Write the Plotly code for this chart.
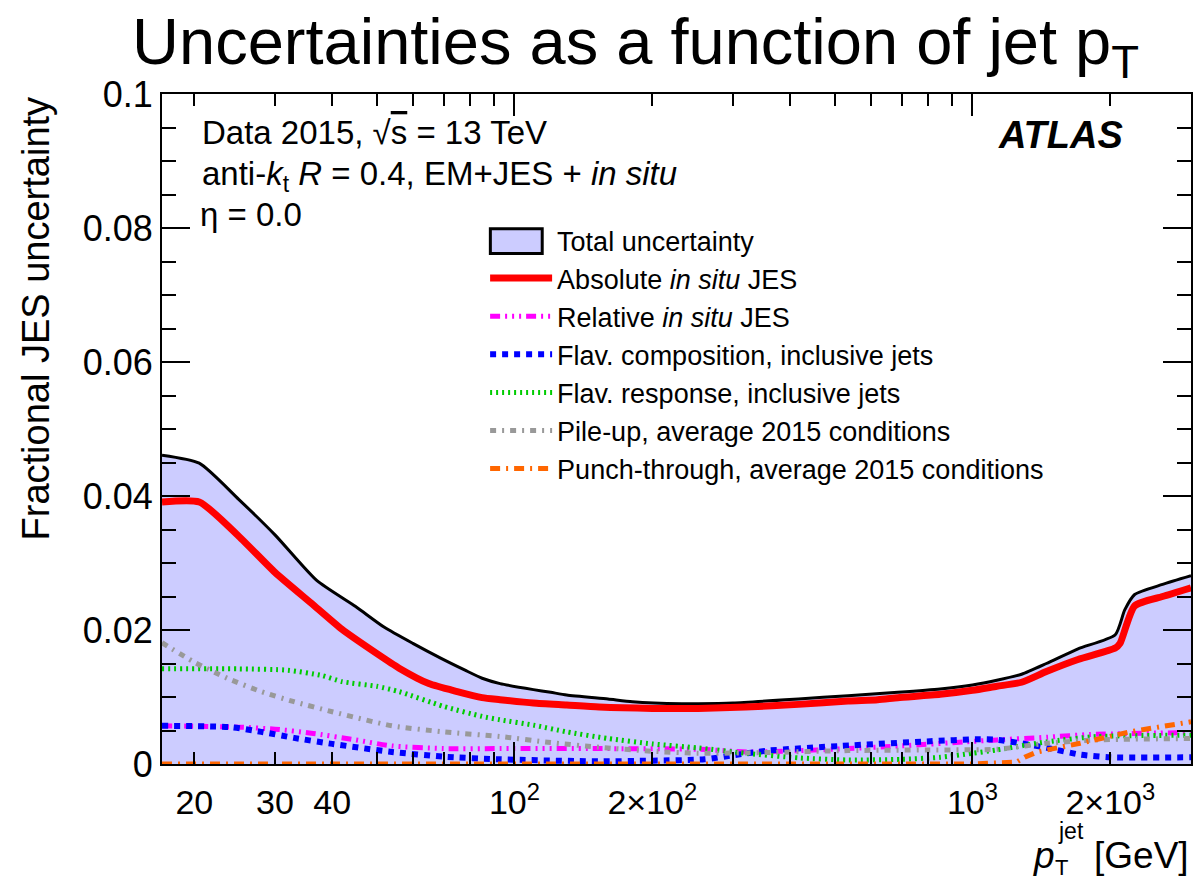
import math
import plotly.graph_objects as go

# ---- data: fractional JES uncertainty components vs jet pT [GeV] ----
pt_total = [17, 20.5, 25, 30, 37, 45, 52, 60, 69, 78, 85, 93, 110, 120, 130, 160, 181, 232, 252, 300,
            417, 535, 687, 850, 1000, 1130, 1280, 1450, 1700, 2050, 2150, 2260, 2600, 3000]
total_unc = [0.0461, 0.0449, 0.0395, 0.0342, 0.0274, 0.0235, 0.0204, 0.0180, 0.0158, 0.0140, 0.0128,
             0.0120, 0.0111, 0.0107, 0.0103, 0.0097, 0.0093, 0.0090, 0.0090, 0.0091,
             0.0097, 0.0102, 0.0107, 0.0112, 0.0118, 0.0125, 0.0134, 0.0150, 0.0172, 0.0193,
             0.0230, 0.0253, 0.0268, 0.0281]

pt_abs = [17, 20.5, 25, 30, 36, 42, 50, 56, 65, 75, 85, 93, 110, 130, 153, 200, 252, 320, 417, 535,
          621, 687, 850, 1000, 1130, 1280, 1450, 1700, 2050, 2100, 2260, 2600, 3000]
abs_insitu = [0.0391, 0.0391, 0.0340, 0.0286, 0.0240, 0.0201, 0.0165, 0.0143, 0.0120, 0.0108,
              0.0099, 0.0096, 0.0091, 0.0088, 0.0085, 0.0083, 0.0083, 0.0085, 0.0089, 0.0094,
              0.0096, 0.0099, 0.0104, 0.0110, 0.0116, 0.0122, 0.0138, 0.0156, 0.0173, 0.0180,
              0.0236, 0.0250, 0.0263]

pt_rel = [17, 25, 30, 36, 45, 54, 70, 93, 153, 252, 324, 420, 535, 700, 960, 1132, 1455, 1806, 3000]
rel_insitu = [0.0057, 0.0055, 0.0052, 0.0046, 0.0036, 0.0027, 0.0023, 0.0023, 0.0023, 0.0022,
              0.0018, 0.0020, 0.0023, 0.0027, 0.0033, 0.0036, 0.0040, 0.0044, 0.0047]

pt_flavcomp = [17, 24, 28, 33, 40, 54, 70, 93, 153, 200, 260, 300, 358, 517, 809, 1040, 1132, 1300,
               1455, 1718, 2000, 3000]
flav_comp = [0.0057, 0.0055, 0.0048, 0.0039, 0.0030, 0.0018, 0.0011, 0.0007, 0.0004, 0.0005, 0.0007,
             0.0013, 0.0020, 0.0027, 0.0034, 0.0037, 0.0036, 0.0030, 0.0024, 0.0014, 0.0010, 0.0010]

pt_flavresp = [17, 25, 32, 38, 42, 50, 56, 70, 85, 93, 110, 130, 160, 200, 252, 320, 420, 535, 700,
               850, 1000, 1130, 1450, 1870, 3000]
flav_resp = [0.0142, 0.0142, 0.0140, 0.0132, 0.0123, 0.0116, 0.0108, 0.0086, 0.0071, 0.0066, 0.0058,
             0.0048, 0.0038, 0.0030, 0.0024, 0.0016, 0.0009, 0.0006, 0.0007, 0.0010, 0.0016, 0.0021,
             0.0033, 0.0041, 0.0043]

pt_pileup = [17, 20, 23.6, 28, 33, 40, 54, 70, 93, 120, 153, 200, 252, 350, 535, 800, 1132, 1455,
             1870, 3000]
pileup = [0.0181, 0.0152, 0.0128, 0.0108, 0.0093, 0.0078, 0.0057, 0.0048, 0.0041, 0.0032, 0.0025,
          0.0019, 0.0016, 0.0017, 0.0020, 0.0021, 0.0022, 0.0031, 0.0036, 0.0038]

pt_punch = [17, 100, 1000, 1250, 1300, 1384, 1718, 2204, 2840, 3000]
punch = [0.0, 0.0, 0.0, 0.0003, 0.0010, 0.0018, 0.0031, 0.0048, 0.0061, 0.0063]

# axis tick definitions
x_tick_vals = [20, 30, 40, 50, 60, 70, 80, 90, 100, 200, 300, 400, 500, 600, 700, 800, 900,
               1000, 2000, 3000]
x_tick_text = ['20', '30', '40', '', '', '', '', '', '10<sup>2</sup>', '2\u00d710<sup>2</sup>', '', '',
               '', '', '', '', '', '10<sup>3</sup>', '2\u00d710<sup>3</sup>', '']
x_long_ticks = [100, 1000]
y_tick_vals = [0, 0.02, 0.04, 0.06, 0.08, 0.1]
y_tick_text = ['0', '0.02', '0.04', '0.06', '0.08', '0.1']

FONT = 'Liberation Sans, Arial, Helvetica, sans-serif'
SMOOTH = dict(shape='spline', smoothing=0.6)
BAND_COLOR = '#ccccff'

fig = go.Figure()

# total uncertainty band, filled down to zero
fig.add_trace(go.Scatter(
    x=pt_total, y=total_unc, name='Total uncertainty', mode='lines',
    fill='tozeroy', fillcolor=BAND_COLOR, line=dict(color='black', width=3, **SMOOTH),
    legendgroup='g1', showlegend=False))
# legend text for the band; its boxed swatch is drawn as a shape below
fig.add_trace(go.Scatter(
    x=pt_total[:1], y=total_unc[:1], name='Total uncertainty', mode='lines',
    line=dict(color='rgba(0,0,0,0)', width=0), legendgroup='g1', hoverinfo='skip'))
fig.add_trace(go.Scatter(
    x=pt_abs, y=abs_insitu, name='Absolute <i>in situ</i> JES', mode='lines',
    line=dict(color='#ff0000', width=7, **SMOOTH), legendgroup='g2'))
fig.add_trace(go.Scatter(
    x=pt_rel, y=rel_insitu, name='Relative <i>in situ</i> JES', mode='lines',
    line=dict(color='#ff00ff', width=5, dash='10px,5px,2px,5px,2px,5px,2px,5px', **SMOOTH),
    legendgroup='g3'))
fig.add_trace(go.Scatter(
    x=pt_flavcomp, y=flav_comp, name='Flav. composition, inclusive jets', mode='lines',
    line=dict(color='#0000ff', width=6, dash='6px,6px', **SMOOTH), legendgroup='g4'))
fig.add_trace(go.Scatter(
    x=pt_flavresp, y=flav_resp, name='Flav. response, inclusive jets', mode='lines',
    line=dict(color='#00cc00', width=5, dash='2px,4px', **SMOOTH), legendgroup='g5'))
fig.add_trace(go.Scatter(
    x=pt_pileup, y=pileup, name='Pile-up, average 2015 conditions', mode='lines',
    line=dict(color='#999999', width=5, dash='6px,6px,2px,6px', **SMOOTH), legendgroup='g6'))
fig.add_trace(go.Scatter(
    x=pt_punch, y=punch, name='Punch-through, average 2015 conditions', mode='lines',
    line=dict(color='#ff6600', width=5, dash='10px,6px,2px,6px'), legendgroup='g7'))

fig.update_layout(
    width=1197, height=884,
    margin=dict(l=162, r=4, t=94, b=120),
    paper_bgcolor='white', plot_bgcolor='white',
    font=dict(family=FONT, color='black'),
    title=dict(text='Uncertainties as a function of jet p<sub>T</sub>',
               font=dict(size=65, family=FONT, color='black'),
               x=0.531, xanchor='center', y=0.953, yanchor='middle'),
    showlegend=True,
    legend=dict(x=0.314, y=0.818, xanchor='left', yanchor='top',
                bgcolor='rgba(0,0,0,0)', font=dict(size=27, family=FONT),
                tracegroupgap=0, itemwidth=62),
    xaxis=dict(type='log', range=[math.log10(17), math.log10(3000)],
               tickmode='array', tickvals=x_tick_vals, ticktext=x_tick_text,
               ticks='inside', ticklen=12, tickwidth=1.5, tickcolor='black',
               showline=True, linecolor='black', linewidth=2, mirror='allticks',
               showgrid=False, zeroline=False, ticklabelstandoff=7,
               tickfont=dict(size=34, family=FONT),
               minor=dict(tickmode='array', tickvals=x_long_ticks, ticks='inside',
                          ticklen=22, tickwidth=1.5, tickcolor='black', showgrid=False)),
    yaxis=dict(range=[0, 0.1], tickmode='array', tickvals=y_tick_vals, ticktext=y_tick_text,
               ticks='inside', ticklen=28, tickwidth=1.5, tickcolor='black',
               showline=True, linecolor='black', linewidth=2, mirror='allticks',
               showgrid=False, zeroline=False, ticklabelstandoff=0,
               tickfont=dict(size=36, family=FONT),
               minor=dict(dtick=0.005, ticks='inside', ticklen=14, tickwidth=1.5,
                          tickcolor='black', showgrid=False)),
)

# boxed legend swatch for the total uncertainty band
fig.add_shape(type='rect', xref='paper', yref='paper',
              x0=0.3191, x1=0.3695, y0=0.762, y1=0.799,
              fillcolor=BAND_COLOR, line=dict(color='black', width=3), layer='above')

ann_font = dict(size=33, family=FONT, color='black')
annotations = [
    dict(text='Data 2015, \u221a<span style="text-decoration:overline">s</span> = 13 TeV',
         x=0.037, y=0.942, xanchor='left', yanchor='middle', font=ann_font),
    dict(text='anti-<i>k</i><sub>t</sub> <i>R</i> = 0.4, EM+JES + <i>in situ</i>',
         x=0.037, y=0.878, xanchor='left', yanchor='middle', font=ann_font),
    dict(text='\u03b7 = 0.0',
         x=0.035, y=0.820, xanchor='left', yanchor='middle', font=ann_font),
    dict(text='<b><i>ATLAS</i></b>', x=0.936, y=0.939, xanchor='right', yanchor='middle',
         font=dict(size=38, family=FONT, color='black')),
    dict(text='Fractional JES uncertainty', textangle=-90,
         x=-0.122, y=1.0, xanchor='center', yanchor='top',
         font=dict(size=38, family=FONT, color='black')),
    dict(text='<i>p</i>', x=(1046 - 162) / 1031, y=-0.136, xanchor='center', yanchor='middle',
         font=dict(size=37, family=FONT, color='black')),
    dict(text='jet', x=(1073 - 162) / 1031, y=-0.100, xanchor='center', yanchor='middle',
         font=dict(size=23, family=FONT, color='black')),
    dict(text='T', x=(1063 - 162) / 1031, y=-0.155, xanchor='center', yanchor='middle',
         font=dict(size=22, family=FONT, color='black')),
    dict(text='[GeV]', x=1.0, y=-0.136, xanchor='right', yanchor='middle',
         font=dict(size=37, family=FONT, color='black')),
]
for a in annotations:
    a.update(xref='paper', yref='paper', showarrow=False)
fig.update_layout(annotations=annotations)

fig.write_html('out.html')
